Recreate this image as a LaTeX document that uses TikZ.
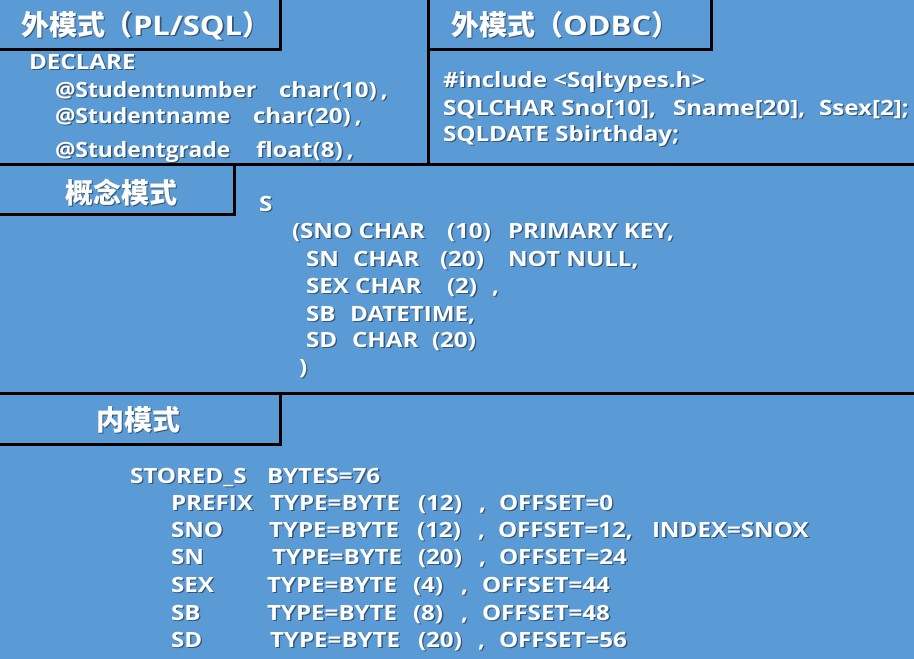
\documentclass[tikz,border=0pt]{standalone}
\usepackage{fontspec}
\setmainfont{Open Sans}[FakeStretch=1.15]
\newfontfamily\zh{Noto Sans CJK SC}
\definecolor{bg}{RGB}{91,155,213}
\definecolor{shadowc}{RGB}{30,40,55}
\newcommand\body{\fontsize{21}{25}\selectfont\bfseries}
\newcommand\ttl{\fontsize{27}{32}\selectfont\bfseries}
\newcommand\zhttl{\zh\fontsize{28}{32}\selectfont\bfseries}
\tikzset{
  txt/.style={anchor=base west, inner sep=0pt, outer sep=0pt, text=white, font=\body},
  shd/.style={txt, text=shadowc, opacity=0.6},
  ttltxt/.style={txt, font=\ttl},
  ttlshd/.style={shd, font=\ttl},
  frame/.style={draw=black, line width=3pt},
  narrow/.style={xscale=0.945, transform shape},
}
\newcommand\tx[4][]{%
  \node[shd,#1] (#2-s) at ([shift={(1.4,1.4)}]#3) {#4};
  \node[txt,#1] (#2) at (#3) {#4};}
\newcommand\ttlnode[3]{%
  \node[ttlshd] (#1-s) at ([shift={(1.6,1.6)}]#2) {#3};
  \node[ttltxt] (#1) at (#2) {#3};}
\begin{document}
\begin{tikzpicture}[x=1pt,y=-1pt]
\fill[bg] (0,0) rectangle (914,659);
\useasboundingbox (0,0) rectangle (914,659);
% frame lines
\draw[frame] (0,164) -- (914,164);
\draw[frame] (0,393.5) -- (914,393.5);
\draw[frame] (428.3,0) -- (428.3,164);
\draw[frame] (0,49.5) -- (280,49.5) -- (280,0);
\draw[frame] (428.3,49.5) -- (711,49.5) -- (711,0);
\draw[frame] (0,214) -- (234,214) -- (234,164);
\draw[frame] (0,444.5) -- (280.5,444.5) -- (280.5,393.5);
% titles
\ttlnode{t1}{21,35}{{\zhttl 外模式（}PL/SQL{\zhttl ）}}
\ttlnode{t2}{451,35}{{\zhttl 外模式（}ODBC{\zhttl ）}}
\ttlnode{t3}{65,203}{{\zhttl 概念模式}}
\ttlnode{t4}{96,430}{{\zhttl 内模式}}
% PL/SQL
\tx{p0}{29,69}{DECLARE}
\tx[narrow]{p1}{55,97}{@Studentnumber}
\tx{p1b}{279,97}{char(10)\kern4pt,}
\tx[narrow]{p2}{55,123}{@Studentname}
\tx{p2b}{253,123}{char(20)\kern4pt,}
\tx[narrow]{p3}{55,157}{@Studentgrade}
\tx{p3b}{256,157}{float(8)\kern4pt,}
% ODBC
\tx{o1}{443,87}{\#include <Sqltypes.h>}
\tx{o2}{443,115}{SQLCHAR Sno[10],}
\tx{o2b}{673,115}{Sname[20],}
\tx{o2c}{819,115}{Ssex[2];}
\tx{o3}{443,141}{SQLDATE Sbirthday;}
% concept
\tx{c0}{259,211}{S}
\tx{c1}{292,238}{(SNO CHAR}
\tx{c1b}{447,238}{(10)}
\tx{c1c}{508,238}{PRIMARY KEY,}
\tx{c2}{306,266}{SN}
\tx{c2b}{353,266}{CHAR}
\tx{c2c}{440,266}{(20)}
\tx{c2d}{508,266}{NOT NULL,}
\tx{c3}{306,293}{SEX CHAR}
\tx{c3b}{447,293}{(2)}
\tx{c3c}{492,293}{,}
\tx{c4}{306,321}{SB}
\tx{c4b}{350,321}{DATETIME,}
\tx{c5}{306,347}{SD}
\tx{c5b}{352,347}{CHAR}
\tx{c5c}{432,347}{(20)}
\tx{c6}{299,374}{)}
% internal
\tx{i0}{130,483}{STORED\_S}
\tx{i0b}{267,483}{BYTES=76}
\tx{i1}{171,510}{PREFIX}
\tx{i1b}{270,510}{TYPE=BYTE}
\tx{i1c}{418,510}{(12)}
\tx{i1d}{479,510}{,}
\tx{i1e}{499,510}{OFFSET=0}
\tx{i2}{171,537}{SNO}
\tx{i2b}{269,537}{TYPE=BYTE}
\tx{i2c}{417,537}{(12)}
\tx{i2d}{478,537}{,}
\tx{i2e}{498,537}{OFFSET=12,}
\tx{i2f}{652,537}{INDEX=SNOX}
\tx{i3}{171,564}{SN}
\tx{i3b}{272,564}{TYPE=BYTE}
\tx{i3c}{418,564}{(20)}
\tx{i3d}{479,564}{,}
\tx{i3e}{499,564}{OFFSET=24}
\tx{i4}{171,592}{SEX}
\tx{i4b}{267,592}{TYPE=BYTE}
\tx{i4c}{413,592}{(4)}
\tx{i4d}{461,592}{,}
\tx{i4e}{482,592}{OFFSET=44}
\tx{i5}{171,620}{SB}
\tx{i5b}{267,620}{TYPE=BYTE}
\tx{i5c}{413,620}{(8)}
\tx{i5d}{461,620}{,}
\tx{i5e}{482,620}{OFFSET=48}
\tx{i6}{171,647}{SD}
\tx{i6b}{270,647}{TYPE=BYTE}
\tx{i6c}{418,647}{(20)}
\tx{i6d}{478,647}{,}
\tx{i6e}{499,647}{OFFSET=56}
\end{tikzpicture}
\end{document}
